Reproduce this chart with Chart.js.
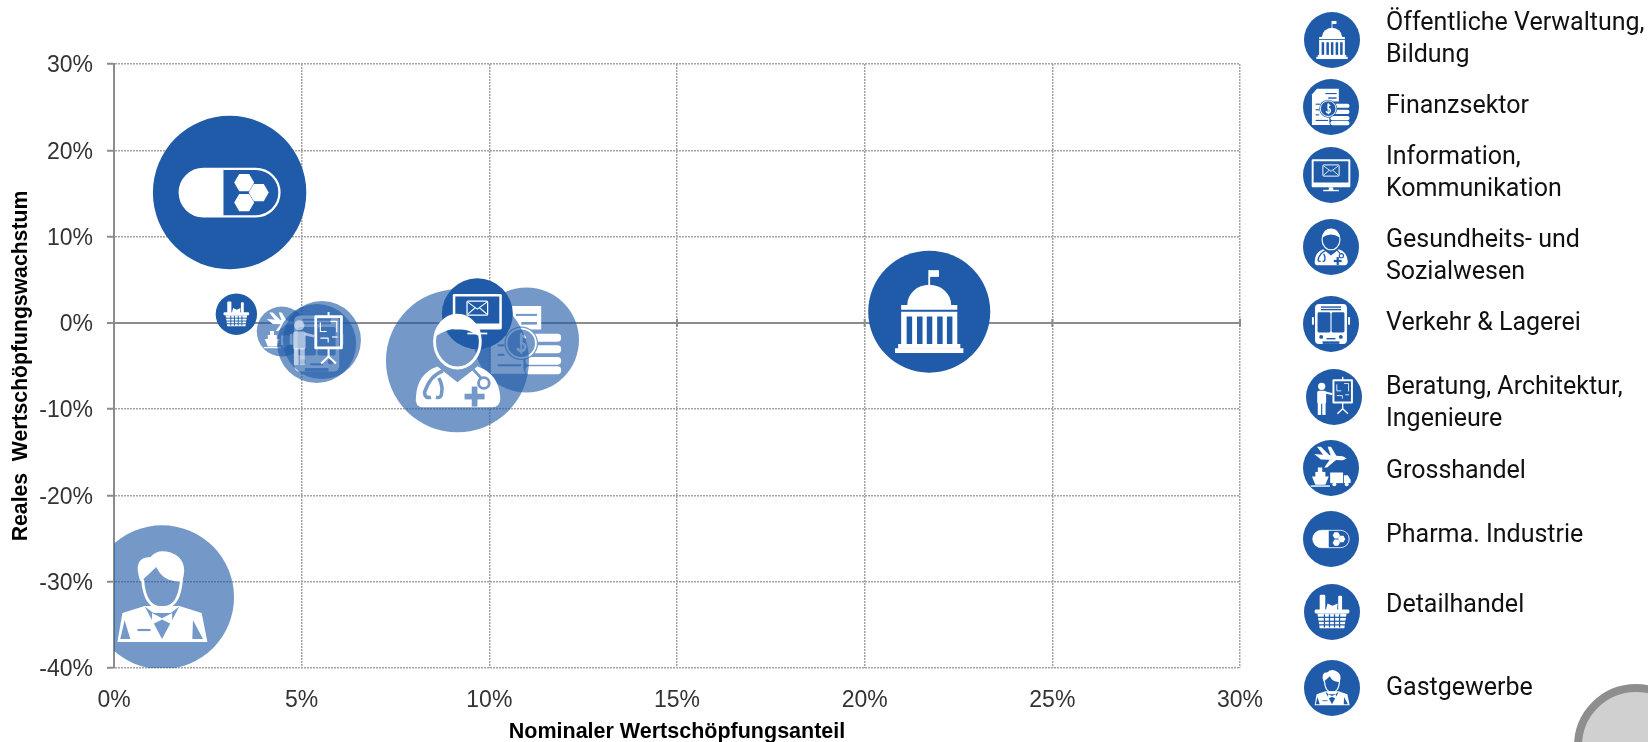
<!DOCTYPE html>
<html>
<head>
<meta charset="utf-8">
<script src="https://cdn.jsdelivr.net/npm/chart.js@4"></script>
<style>
  html, body { margin: 0; padding: 0; background: #fff; overflow: hidden; }
  #wrap { position: relative; width: 1648px; height: 742px; overflow: hidden; }
  #chart { position: absolute; left: 0; top: 0; }
  .label {
    position: absolute; left: 1386px; white-space: pre;
    font: 25px/32px Roboto, sans-serif; color: #111;
  }
  #badge {
    position: absolute; left: 1574px; top: 684px; width: 108px; height: 108px;
    border: 8px solid #8e8e8e; border-radius: 50%; background: #d0d0d0;
  }
</style>
</head>
<body>
<div id="wrap">
  <canvas id="chart" width="1648" height="742"></canvas>
  <div id="badge"></div>
</div>
<script>
// sectors, in legend order
const sectors = ["Öffentliche Verwaltung,\nBildung", "Finanzsektor", "Information,\nKommunikation",
  "Gesundheits- und\nSozialwesen", "Verkehr & Lagerei", "Beratung, Architektur,\nIngenieure",
  "Grosshandel", "Pharma. Industrie", "Detailhandel", "Gastgewerbe"];
const icons = ["public", "finance", "info", "health", "bus", "consult", "wholesale", "pharma", "retail", "hotel"];
const shareValues = [21.72, 10.99, 9.68, 9.15, 5.40, 5.54, 4.47, 3.08, 3.26, 1.28];
const growthValues = [1.3, -2.0, 1.05, -4.4, -2.4, -2.0, -1.0, 15.1, 1.0, -31.8];
const bubbleSizes = [61, 52.5, 35.5, 71.5, 39.5, 39, 25, 76.7, 20.7, 72];
const solidIcons = ["public", "info", "pharma", "retail"];
const paintOrder = ["public", "pharma", "retail", "wholesale", "bus", "consult", "finance", "health", "info", "hotel"];
const xTicks = [0, 5, 10, 15, 20, 25, 30];
const yTicks = [-40, -30, -20, -10, 0, 10, 20, 30];
const legendIconY = [40, 107, 175, 247, 324, 397, 468, 539, 612, 688];
const legendIconX = [1332, 1331, 1331, 1331, 1331, 1334, 1331, 1331, 1332, 1332];
const legendTextY = [38, 105, 172, 255, 322, 402, 470, 534, 604, 687];

const DARK = "#1f5ba8";
const LIGHT = "#7499c9";
const WHITE = "#ffffff";

// icons are drawn in a unit circle, r = 1
function hexagon(c, x, y, s) {
  c.beginPath();
  for (let i = 0; i < 6; i++) {
    const a = Math.PI / 3 * i;
    c.lineTo(x + s * Math.cos(a), y + s * Math.sin(a));
  }
  c.closePath();
  c.fill();
}
function poly(c, pts) {
  c.beginPath();
  pts.forEach((p) => c.lineTo(p[0], p[1]));
  c.closePath();
  c.fill();
}
function box(c, x, y, w, h, r) {
  c.beginPath();
  c.roundRect(x, y, w, h, r || 0);
  c.fill();
}
function line(c, pts, w) {
  c.lineWidth = w;
  c.beginPath();
  pts.forEach((p) => c.lineTo(p[0], p[1]));
  c.stroke();
}
function dot(c, x, y, r) {
  c.beginPath();
  c.arc(x, y, r, 0, Math.PI * 2);
  c.fill();
}

const iconDraw = {
  public(c, bg) {
    line(c, [[0, -0.68], [0, -0.42]], 0.03);
    box(c, 0, -0.68, 0.16, 0.11);
    c.beginPath();
    c.ellipse(0, -0.11, 0.36, 0.33, 0, Math.PI, 0);
    c.fill();
    box(c, -0.46, -0.11, 0.92, 0.08);
    box(c, -0.46, 0, 0.92, 0.54);
    c.fillStyle = bg;
    [-0.37, -0.2, -0.04, 0.13, 0.29].forEach((x) => box(c, x, 0.08, 0.09, 0.46));
    c.fillStyle = WHITE;
    box(c, -0.51, 0.53, 1.02, 0.08);
    box(c, -0.56, 0.6, 1.12, 0.08);
  },
  pharma(c, bg) {
    c.strokeStyle = WHITE;
    c.lineWidth = 0.03;
    c.beginPath();
    c.roundRect(-0.65, -0.31, 1.3, 0.62, 0.31);
    c.stroke();
    c.save();
    c.beginPath();
    c.rect(-0.7, -0.4, 0.62, 0.8);
    c.clip();
    box(c, -0.65, -0.31, 1.3, 0.62, 0.31);
    c.restore();
    hexagon(c, 0.19, -0.13, 0.13);
    hexagon(c, 0.38, 0, 0.13);
    hexagon(c, 0.19, 0.13, 0.13);
  },
  retail(c, bg) {
    box(c, -0.44, -0.62, 0.2, 0.58, 0.05);
    poly(c, [[-0.22, -0.05], [-0.16, -0.3], [0.02, -0.22], [0.2, -0.3], [0.18, -0.05]]);
    box(c, 0.22, -0.58, 0.14, 0.54, 0.04);
    box(c, -0.62, -0.09, 1.24, 0.14, 0.05);
    poly(c, [[-0.52, 0.05], [0.52, 0.05], [0.44, 0.58], [-0.44, 0.58]]);
    c.strokeStyle = bg;
    [0.19, 0.33, 0.46].forEach((y) => line(c, [[-0.55, y], [0.55, y]], 0.045));
    [-0.27, -0.09, 0.09, 0.27].forEach((x) => line(c, [[x, 0.08], [x, 0.55]], 0.045));
  },
  bus(c, bg) {
    box(c, -0.57, -0.71, 1.14, 1.42, 0.14);
    box(c, -0.68, -0.25, 0.07, 0.28, 0.03);
    box(c, 0.61, -0.25, 0.07, 0.28, 0.03);
    c.fillStyle = bg;
    box(c, -0.36, -0.63, 0.72, 0.05);
    box(c, -0.36, -0.54, 0.72, 0.05);
    box(c, -0.48, -0.42, 0.46, 0.72, 0.05);
    box(c, 0.02, -0.42, 0.46, 0.72, 0.05);
    dot(c, -0.35, 0.46, 0.07);
    dot(c, 0.35, 0.46, 0.07);
    box(c, -0.16, 0.5, 0.32, 0.05);
    box(c, -0.3, 0.62, 0.6, 0.09);
  },
  consult(c, bg) {
    // in the chart the figure sits further left and is paler than in the legend
    if (bg !== DARK) {
      c.translate(-0.14, 0);
      c.globalAlpha = 0.55;
    }
    dot(c, -0.44, -0.38, 0.13);
    box(c, -0.6, -0.22, 0.32, 0.46, 0.06);
    line(c, [[-0.3, -0.16], [-0.06, -0.1]], 0.07);
    box(c, -0.58, 0.2, 0.12, 0.44);
    box(c, -0.42, 0.2, 0.12, 0.44);
    c.globalAlpha = 1;
    c.lineWidth = 0.07;
    c.beginPath();
    c.rect(-0.02, -0.6, 0.66, 0.8);
    c.stroke();
    line(c, [[0.31, -0.72], [0.31, -0.6]], 0.05);
    line(c, [[0.31, 0.2], [0.31, 0.42]], 0.05);
    line(c, [[0.12, 0.6], [0.31, 0.42], [0.5, 0.6]], 0.05);
    line(c, [[0.1, -0.45], [0.1, -0.22], [0.26, -0.22]], 0.03);
    line(c, [[0.36, -0.48], [0.52, -0.48], [0.52, -0.2]], 0.03);
    line(c, [[0.1, -0.05], [0.3, -0.05], [0.3, 0.06]], 0.03);
    line(c, [[0.4, -0.08], [0.54, -0.08]], 0.03);
  },
  wholesale(c, bg) {
    // plane
    poly(c, [[-0.6, -0.5], [0.42, -0.42], [0.56, -0.34], [0.42, -0.28], [-0.36, -0.3]]);
    poly(c, [[-0.5, -0.76], [-0.36, -0.76], [-0.02, -0.42], [-0.24, -0.42]]);
    poly(c, [[-0.12, -0.76], [0.0, -0.76], [0.2, -0.42], [0.0, -0.42]]);
    poly(c, [[-0.04, -0.3], [0.2, -0.3], [-0.14, -0.02], [-0.24, -0.02]]);
    // ship
    box(c, -0.47, -0.02, 0.16, 0.18);
    box(c, -0.56, 0.14, 0.36, 0.18);
    poly(c, [[-0.68, 0.3], [-0.08, 0.3], [-0.2, 0.6], [-0.56, 0.6]]);
    box(c, -0.72, 0.62, 0.68, 0.05);
    // truck
    box(c, -0.03, 0.16, 0.46, 0.38);
    poly(c, [[0.46, 0.26], [0.6, 0.26], [0.7, 0.42], [0.7, 0.54], [0.46, 0.54]]);
    dot(c, 0.12, 0.58, 0.07);
    dot(c, 0.56, 0.58, 0.07);
  },
  info(c, bg) {
    box(c, -0.69, -0.56, 1.38, 1.0, 0.04);
    c.fillStyle = bg;
    box(c, -0.62, -0.49, 1.24, 0.76);
    c.fillStyle = WHITE;
    box(c, -0.08, 0.44, 0.16, 0.1);
    box(c, -0.28, 0.53, 0.56, 0.05);
    c.lineWidth = 0.035;
    c.beginPath();
    c.roundRect(-0.29, -0.36, 0.58, 0.4, 0.03);
    c.stroke();
    line(c, [[-0.27, -0.33], [0, -0.13], [0.27, -0.33]], 0.03);
    line(c, [[-0.27, 0.01], [-0.06, -0.17]], 0.03);
    line(c, [[0.27, 0.01], [0.06, -0.17]], 0.03);
  },
  finance(c, bg) {
    poly(c, [[-0.5, -0.65], [0.28, -0.65], [0.28, 0.2], [0.0, 0.64], [-0.68, 0.64], [-0.68, -0.45]]);
    c.strokeStyle = bg;
    line(c, [[-0.2, -0.48], [0.2, -0.48]], 0.04);
    line(c, [[-0.1, -0.32], [0.2, -0.32]], 0.05);
    line(c, [[-0.55, -0.1], [-0.38, -0.1]], 0.04);
    line(c, [[-0.55, 0.1], [-0.42, 0.1]], 0.04);
    line(c, [[-0.55, 0.28], [-0.42, 0.28]], 0.04);
    line(c, [[-0.55, 0.48], [-0.1, 0.48]], 0.04);
    // coin stack
    c.fillStyle = bg;
    box(c, -0.06, -0.2, 0.76, 0.88, 0.14);
    c.fillStyle = WHITE;
    [-0.12, 0.1, 0.32, 0.5].forEach((y) => box(c, -0.02, y, 0.68, 0.15, 0.07));
    // coin with dollar
    c.fillStyle = bg;
    dot(c, -0.1, 0.06, 0.32);
    c.strokeStyle = WHITE;
    c.lineWidth = 0.035;
    c.beginPath();
    c.arc(-0.1, 0.06, 0.28, 0, Math.PI * 2);
    c.stroke();
    c.lineWidth = 0.05;
    c.beginPath();
    c.arc(-0.1, -0.01, 0.075, -0.3, Math.PI * 1.5, true);
    c.arc(-0.1, 0.13, 0.075, -Math.PI / 2, Math.PI * 0.9);
    c.stroke();
    line(c, [[-0.1, -0.14], [-0.1, 0.26]], 0.035);
  },
  health(c, bg) {
    c.lineWidth = 0.04;
    c.beginPath();
    c.ellipse(0, -0.27, 0.32, 0.37, 0, 0, Math.PI * 2);
    c.stroke();
    // hair cap
    c.beginPath();
    c.moveTo(-0.31, -0.34);
    c.quadraticCurveTo(-0.26, -0.64, 0, -0.64);
    c.quadraticCurveTo(0.26, -0.64, 0.31, -0.34);
    c.quadraticCurveTo(0, -0.56, -0.31, -0.34);
    c.fill();
    c.beginPath();
    c.moveTo(-0.28, 0.08);
    c.lineTo(0, 0.3);
    c.lineTo(0.28, 0.08);
    c.quadraticCurveTo(0.58, 0.18, 0.6, 0.52);
    c.quadraticCurveTo(0.6, 0.65, 0.48, 0.65);
    c.lineTo(-0.48, 0.65);
    c.quadraticCurveTo(-0.6, 0.65, -0.58, 0.5);
    c.quadraticCurveTo(-0.56, 0.18, -0.28, 0.08);
    c.fill();
    c.strokeStyle = bg;
    c.lineWidth = 0.05;
    c.beginPath();
    c.moveTo(-0.2, 0.14);
    c.quadraticCurveTo(-0.38, 0.2, -0.46, 0.44);
    c.quadraticCurveTo(-0.46, 0.53, -0.37, 0.51);
    c.moveTo(-0.26, 0.24);
    c.quadraticCurveTo(-0.2, 0.36, -0.22, 0.44);
    c.quadraticCurveTo(-0.22, 0.53, -0.3, 0.51);
    c.stroke();
    line(c, [[0.22, 0.12], [0.33, 0.24]], 0.04);
    c.beginPath();
    c.arc(0.37, 0.31, 0.075, 0, Math.PI * 2);
    c.stroke();
    c.fillStyle = bg;
    box(c, 0.1, 0.46, 0.28, 0.08);
    box(c, 0.2, 0.36, 0.08, 0.28);
  },
  hotel(c, bg) {
    // hair
    c.beginPath();
    c.moveTo(-0.3, -0.22);
    c.quadraticCurveTo(-0.42, -0.56, -0.16, -0.56);
    c.quadraticCurveTo(-0.06, -0.68, 0.12, -0.62);
    c.quadraticCurveTo(0.38, -0.52, 0.28, -0.22);
    c.quadraticCurveTo(0.02, -0.2, -0.08, -0.42);
    c.quadraticCurveTo(-0.2, -0.3, -0.3, -0.22);
    c.fill();
    c.lineWidth = 0.04;
    c.beginPath();
    c.moveTo(-0.27, -0.25);
    c.quadraticCurveTo(-0.24, 0.16, 0, 0.14);
    c.quadraticCurveTo(0.24, 0.16, 0.27, -0.25);
    c.stroke();
    // jacket
    poly(c, [[-0.24, 0.12], [0.24, 0.12], [0.55, 0.22], [0.63, 0.62], [-0.62, 0.62], [-0.55, 0.22]]);
    c.fillStyle = bg;
    poly(c, [[-0.24, 0.13], [0, 0.58], [0.24, 0.13], [0.12, 0.22], [-0.12, 0.22]]);
    poly(c, [[-0.52, 0.32], [-0.44, 0.58], [-0.58, 0.58]]);
    poly(c, [[0.43, 0.32], [0.57, 0.58], [0.42, 0.58]]);
    box(c, -0.34, 0.44, 0.18, 0.03);
    c.fillStyle = WHITE;
    poly(c, [[-0.14, 0.22], [0, 0.29], [0.14, 0.22], [0.14, 0.38], [0, 0.31], [-0.14, 0.38]]);
  },
};

function drawIcon(c, key, x, y, r, bg) {
  c.save();
  c.translate(x, y);
  c.scale(r, r);
  c.fillStyle = WHITE;
  c.strokeStyle = WHITE;
  c.lineJoin = "round";
  iconDraw[key](c, bg);
  c.restore();
}

const isSolid = (key) => solidIcons.includes(key);

// icon on top of its bubble, health icon lies over the information bubble
const iconPlugin = {
  id: "sectorIcons",
  afterDatasetDraw(chart, args) {
    const key = chart.data.datasets[args.index].icon;
    if (key === "health") return;
    const pt = args.meta.data[0];
    drawIcon(chart.ctx, key, pt.x, pt.y, pt.options.radius, isSolid(key) ? DARK : LIGHT);
  },
  afterDatasetsDraw(chart) {
    chart.data.datasets.forEach((ds, i) => {
      if (ds.icon !== "health") return;
      const pt = chart.getDatasetMeta(i).data[0];
      drawIcon(chart.ctx, "health", pt.x, pt.y, pt.options.radius, LIGHT);
    });
  },
  afterDraw(chart) {
    const c = chart.ctx;
    icons.forEach((key, i) => {
      c.fillStyle = DARK;
      c.beginPath();
      c.arc(legendIconX[i], legendIconY[i], 28, 0, Math.PI * 2);
      c.fill();
      drawIcon(c, key, legendIconX[i], legendIconY[i], 28, DARK);
    });
  },
};

// small tick marks on the zero line
const zeroTicks = {
  id: "zeroTicks",
  beforeDatasetsDraw(chart) {
    const c = chart.ctx;
    const y = chart.scales.y.getPixelForValue(0);
    c.save();
    c.strokeStyle = "#8c8c8c";
    c.lineWidth = 2;
    xTicks.slice(1).forEach((t) => {
      const x = chart.scales.x.getPixelForValue(t);
      c.beginPath();
      c.moveTo(x, y - 4);
      c.lineTo(x, y + 4);
      c.stroke();
    });
    c.restore();
  },
};

const datasets = paintOrder.map((key, n) => {
  const i = icons.indexOf(key);
  return {
    label: sectors[i].replace("\n", " "),
    icon: key,
    order: paintOrder.length - n,
    clip: 0,
    data: [{ x: shareValues[i], y: growthValues[i], r: bubbleSizes[i] }],
    backgroundColor: isSolid(key) ? DARK : "rgba(31, 91, 168, 0.62)",
    borderWidth: 0,
    hoverBorderWidth: 0,
  };
});

new Chart(document.getElementById("chart"), {
  type: "bubble",
  data: { datasets },
  plugins: [zeroTicks, iconPlugin],
  options: {
    responsive: false,
    animation: false,
    layout: { autoPadding: false, padding: { left: 0, top: 64, right: 408, bottom: 0 } },
    plugins: { legend: { display: false }, tooltip: { enabled: false } },
    scales: {
      x: {
        type: "linear",
        min: 0,
        max: 30,
        afterBuildTicks: (s) => { s.ticks = xTicks.map((value) => ({ value })); },
        afterFit: (s) => { s.height = 74; },
        ticks: {
          color: "#333",
          padding: 19,
          maxRotation: 0,
          font: { family: "'Liberation Sans', sans-serif", size: 23 },
          callback: (v) => v + "%",
        },
        grid: { color: "#a3a3a3", lineWidth: 1.5, drawTicks: false },
        border: { display: false, dash: [2, 1] },
        title: {
          display: true,
          text: "Nominaler Wertschöpfungsanteil",
          color: "#000",
          padding: { top: 6, bottom: -3 },
          font: { family: "'Liberation Sans', sans-serif", size: 21.5, weight: "bold" },
        },
      },
      y: {
        min: -40,
        max: 30,
        afterBuildTicks: (s) => { s.ticks = yTicks.map((value) => ({ value })); },
        afterFit: (s) => { s.width = 114; },
        ticks: {
          color: "#333",
          padding: 14,
          labelOffset: 2,
          font: { family: "'Liberation Sans', sans-serif", size: 23 },
          callback: (v) => v + "%",
        },
        grid: {
          color: (ctx) => (ctx.tick && ctx.tick.value === 0 ? "#8c8c8c" : "#a3a3a3"),
          lineWidth: (ctx) => (ctx.tick && ctx.tick.value === 0 ? 2 : 1.5),
          tickColor: "#8c8c8c",
          tickWidth: 2,
          tickLength: 7,
        },
        border: {
          color: "#8c8c8c",
          width: 2,
          dash: (ctx) => (ctx.tick && ctx.tick.value === 0 ? [] : [2, 1]),
        },
        title: {
          display: true,
          text: "Reales  Wertschöpfungswachstum",
          color: "#000",
          padding: { top: 8, bottom: 0 },
          font: { family: "'Liberation Sans', sans-serif", size: 21.2, weight: "bold" },
        },
      },
    },
  },
});

const wrap = document.getElementById("wrap");
sectors.forEach((name, i) => {
  const el = document.createElement("div");
  el.className = "label";
  el.textContent = name;
  el.style.top = legendTextY[i] - 16 - (name.includes("\n") ? 16 : 0) + "px";
  wrap.appendChild(el);
});
</script>
</body>
</html>
